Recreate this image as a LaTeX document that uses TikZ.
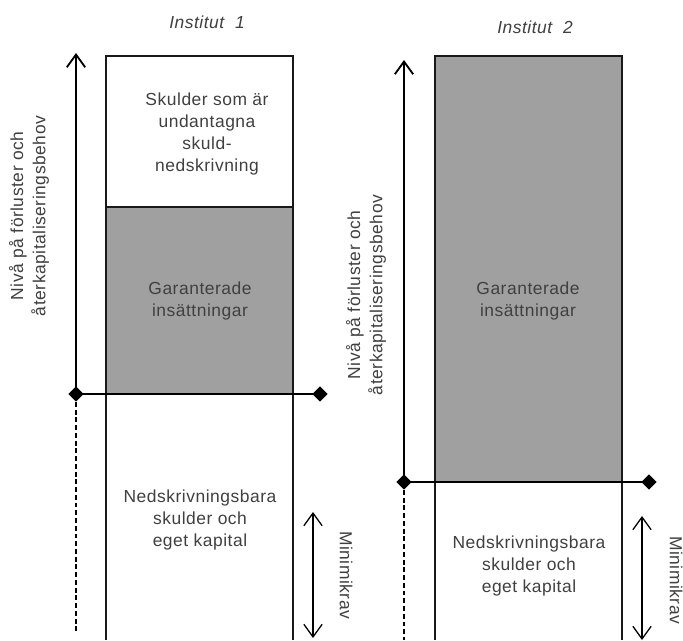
\documentclass[tikz,border=0pt]{standalone}
\usepackage{fontspec}
\newfontfamily\labfont{Liberation Sans}[LetterSpace=3]
\usepackage{xcolor}
\usetikzlibrary{arrows.meta, shapes.geometric}
\definecolor{boxgray}{RGB}{160,160,160}
\tikzset{
    lab/.style={font=\labfont\fontsize{12.4}{15.8}\selectfont, align=center, text=black!75, inner sep=0pt},
    border/.style={draw=black!90, line width=1.3pt},
    level/.style={draw=black, line width=1.3pt},
    axis/.style={line width=1.3pt, -{Straight Barb[length=9pt, width=13pt]}},
    dashaxis/.style={line width=1.7pt, dash pattern=on 3.5pt off 2pt},
    minarrow/.style={line width=0.9pt, {Straight Barb[length=9pt, width=13pt]}-{Straight Barb[length=9pt, width=13pt]}},
    dia/.style={diamond, fill=black, inner sep=0pt, minimum size=11pt}
}

\begin{document}
\begin{tikzpicture}[x=0.025cm, y=-0.025cm]
    \useasboundingbox (0,0) rectangle (683,640);
    % Institut 1
    \draw[border] (106,56) rectangle (293,207);
    \draw[border, fill=boxgray] (106,207) rectangle (293,394);
    \draw[border] (106,394) -- (106,640) (293,394) -- (293,640);
    \node[dia] (l1) at (76,394) {};
    \node[dia] (r1) at (320,394) {};
    \coordinate (top1) at (76,53);
    \coordinate (bot1) at (76,632);
    \draw[level] (l1.center) -- (r1.center);
    \draw[axis] (l1.center) -- (top1);
    \draw[dashaxis] (l1.south) -- (bot1);
    \coordinate (mu1) at (313,512);
    \coordinate (md1) at (313,638);
    \draw[minarrow] (mu1) -- (md1);
    \node[lab, font=\labfont\itshape\fontsize{12.4}{15.8}\selectfont] (inst1) at (207,22) {Institut~~1};
    \node[lab] (undant1) at (207,134) {Skulder som är\\undantagna\\skuld-\\nedskrivning};
    \node[lab] (gar1) at (200,301) {Garanterade\\insättningar};
    \node[lab] (ned1) at (200,520) {Nedskrivningsbara\\skulder och\\eget kapital};
    \node[lab, rotate=90] (niva1) at (29,216) {Nivå på förluster och\\återkapitaliseringsbehov};
    \node[lab, rotate=-90] (min1) at (346,575) {Minimikrav};
    % Institut 2
    \draw[border, fill=boxgray] (435,56) rectangle (622,482);
    \draw[border] (435,482) -- (435,640) (622,482) -- (622,640);
    \node[dia] (l2) at (404,482) {};
    \node[dia] (r2) at (649,482) {};
    \coordinate (top2) at (404,60);
    \coordinate (bot2) at (404,640);
    \draw[level] (l2.center) -- (r2.center);
    \draw[axis] (l2.center) -- (top2);
    \draw[dashaxis] (l2.south) -- (bot2);
    \coordinate (mu2) at (642,516);
    \coordinate (md2) at (642,640);
    \draw[minarrow] (mu2) -- (md2);
    \node[lab, font=\labfont\itshape\fontsize{12.4}{15.8}\selectfont] (inst2) at (535,27) {Institut~~2};
    \node[lab] (gar2) at (528,301) {Garanterade\\insättningar};
    \node[lab] (ned2) at (529,566) {Nedskrivningsbara\\skulder och\\eget kapital};
    \node[lab, rotate=90] (niva2) at (366,295) {Nivå på förluster och\\återkapitaliseringsbehov};
    \node[lab, rotate=-90] (min2) at (676,580) {Minimikrav};
\end{tikzpicture}
\end{document}
